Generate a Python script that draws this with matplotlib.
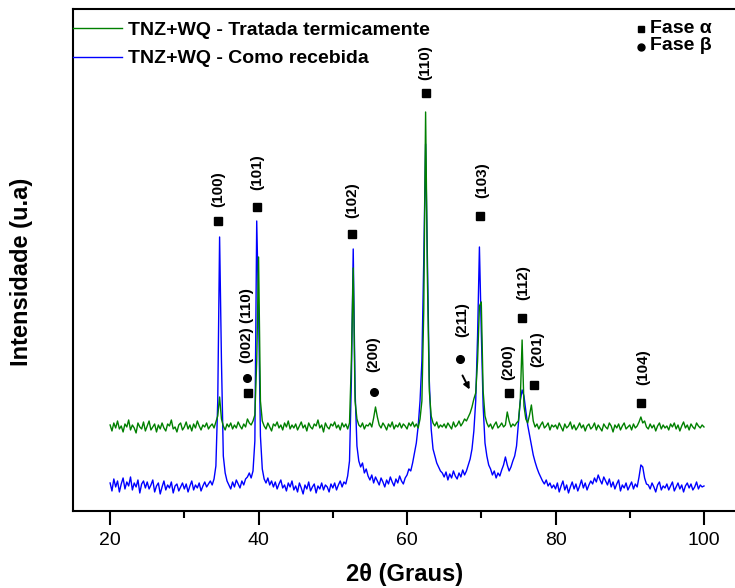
import matplotlib.pyplot as plt
from matplotlib.ticker import MultipleLocator
import numpy as np

plt.rcParams['font.family'] = ['Liberation Sans', 'DejaVu Sans']

two_theta = np.arange(20, 100.001, 0.25)

tratada = [
    86, 80, 88, 83, 90, 82, 85, 79, 87, 84, 91, 81, 86, 83, 78, 88, 84, 82, 89, 80,
    85, 90, 81, 84, 87, 79, 86, 82, 88, 83, 80, 87, 85, 91, 82, 84, 79, 86, 88, 81,
    84, 89, 82, 86, 80, 87, 83, 90, 85, 81, 86, 84, 88, 82, 85, 87, 83, 89, 95, 114,
    92, 85, 81, 87, 84, 88, 82, 86, 83, 89, 85, 82, 87, 84, 92, 88, 86, 90, 96, 150,
    254, 110, 90, 85, 82, 88, 84, 80, 87, 85, 89, 83, 86, 81, 88, 84, 90, 82, 86, 83,
    87, 81, 85, 89, 83, 86, 80, 88, 84, 82, 87, 85, 91, 83, 86, 79, 88, 84, 82, 87,
    85, 89, 83, 86, 81, 88, 84, 87, 82, 88, 150, 243, 110, 92, 86, 84, 88, 82, 86, 85,
    88, 84, 93, 104, 94, 86, 83, 88, 85, 81, 87, 84, 89, 82, 86, 84, 88, 83, 87, 85,
    82, 88, 85, 89, 84, 87, 83, 92, 110, 200, 399, 230, 120, 95, 88, 85, 89, 83, 86, 84,
    87, 83, 88, 85, 82, 89, 84, 86, 90, 85, 88, 92, 90, 94, 98, 104, 112, 118, 150, 205,
    209, 120, 95, 88, 84, 87, 82, 86, 89, 83, 85, 88, 84, 86, 99, 90, 84, 87, 85, 88,
    90, 110, 171, 105, 92, 88, 96, 106, 90, 84, 87, 82, 86, 89, 83, 85, 88, 81, 86, 84,
    86, 82, 88, 84, 80, 87, 83, 85, 89, 82, 86, 81, 84, 88, 83, 86, 80, 85, 87, 82,
    84, 88, 81, 86, 83, 80, 87, 84, 82, 88, 85, 79, 86, 83, 87, 81, 85, 88, 82, 84,
    86, 81, 87, 83, 85, 89, 94, 88, 90, 84, 82, 87, 83, 86, 80, 85, 88, 82, 86, 83,
    85, 81, 87, 84, 88, 82, 86, 80, 85, 89, 83, 86, 81, 87, 84, 82, 88, 85, 83, 86,
    84,
]

recebida = [
    28, 20, 32, 24, 30, 19, 27, 33, 22, 29, 25, 34, 21, 28, 24, 31, 18, 27, 30, 23,
    29, 22, 26, 31, 19, 25, 28, 17, 24, 30, 21, 26, 23, 29, 18, 25, 27, 20, 24, 28,
    22, 27, 19, 25, 30, 21, 26, 23, 28, 20, 25, 29, 24, 27, 30, 26, 32, 45, 110, 274,
    150, 55, 38, 30, 26, 22, 29, 24, 31, 27, 23, 30, 26, 32, 34, 38, 33, 40, 70, 290,
    200, 75, 42, 32, 28, 33, 26, 30, 24, 29, 22, 27, 31, 23, 26, 20, 28, 24, 30, 21,
    25, 19, 28, 23, 17, 26, 22, 29, 20, 24, 27, 18, 25, 22, 28, 21, 26, 24, 19, 27,
    23, 28, 21, 26, 30, 24, 29, 27, 35, 50, 130, 262, 120, 65, 50, 44, 48, 38, 42, 35,
    31, 36, 28, 34, 30, 26, 33, 29, 24, 31, 27, 34, 29, 25, 32, 28, 35, 30, 27, 33,
    36, 42, 40, 48, 58, 68, 85, 110, 150, 250, 367, 250, 130, 82, 62, 55, 48, 44, 40, 38,
    34, 39, 31, 37, 33, 40, 35, 32, 38, 34, 41, 36, 40, 46, 52, 62, 80, 110, 175, 264,
    180, 105, 68, 55, 46, 42, 36, 40, 33, 38, 35, 41, 46, 54, 46, 40, 44, 50, 55, 65,
    88, 110, 121, 115, 100, 86, 76, 66, 56, 49, 43, 38, 34, 30, 27, 31, 25, 28, 23, 26,
    22, 28, 19, 25, 30, 21, 26, 18, 24, 29, 22, 27, 20, 25, 31, 23, 28, 21, 26, 30,
    27, 33, 29, 36, 31, 27, 34, 30, 26, 32, 24, 29, 22, 27, 31, 20, 26, 23, 28, 21,
    25, 29, 22, 27, 24, 34, 46, 44, 33, 27, 26, 22, 28, 24, 19, 26, 29, 21, 25, 23,
    27, 21, 25, 29, 20, 24, 28, 22, 26, 19, 25, 28, 23, 27, 21, 24, 29, 22, 26, 24,
    25,
]

# phase markers (2theta, height)
alpha_x = [34.5, 39.85, 38.6, 52.65, 62.5, 69.8, 73.7, 75.55, 77.1, 91.5]
alpha_y = [290, 304, 118, 277, 418, 295, 118, 193, 126, 108]
beta_x = [38.5, 55.5, 67.2]
beta_y = [133, 119, 152]

# reflection labels (text, 2theta, bottom of label)
hkl_text = ['(100)', '(101)', '(002) (110)', '(102)', '(200)', '(110)',
            '(211)', '(103)', '(200)', '(112)', '(201)', '(104)']
hkl_x = [34.6, 39.8, 38.5, 52.6, 55.4, 62.5, 67.4, 70.1, 73.6, 75.6, 77.5, 91.8]
hkl_y = [304, 321, 148, 293, 139, 431, 174, 313, 131, 211, 144, 126]

fig = plt.figure(figsize=(7.35, 5.88), dpi=100)
ax = fig.add_axes([0.0993, 0.131, 0.909, 0.8537])

l_rec, = ax.plot(two_theta, recebida, color='#0000ff', lw=1.0)
l_trat, = ax.plot(two_theta, tratada, color='#008000', lw=1.0)

ax.plot(alpha_x, alpha_y, 's', color='black', ms=6, ls='none')
ax.plot(beta_x, beta_y, 'o', color='black', ms=5.5, ls='none')
for t, x, y in zip(hkl_text, hkl_x, hkl_y):
    ax.text(x, y, t, rotation=90, ha='center', va='bottom',
            fontsize=11, fontweight='bold')

# small arrow pointing to the beta (211) shoulder
ax.annotate('', xy=(68.6, 119), xytext=(67.3, 138),
            arrowprops=dict(arrowstyle='-|>', color='black', lw=1.4,
                            mutation_scale=9))

ax.legend([l_trat, l_rec],
          ['TNZ+WQ - Tratada termicamente', 'TNZ+WQ - Como recebida'],
          loc='upper left', bbox_to_anchor=(0, 0.975), frameon=False,
          borderaxespad=0, borderpad=0, handlelength=2.5,
          handletextpad=0.35, labelspacing=0.55,
          prop={'size': 14, 'weight': 'bold'})

# phase key (top right)
ax.plot([0.850], [0.960], 's', color='black', ms=5, transform=ax.transAxes)
ax.plot([0.850], [0.925], 'o', color='black', ms=5, transform=ax.transAxes)
ax.text(0.864, 0.952, 'Fase α', transform=ax.transAxes, fontsize=14,
        fontweight='bold', va='baseline')
ax.text(0.864, 0.918, 'Fase β', transform=ax.transAxes, fontsize=14,
        fontweight='bold', va='baseline')

ax.set_xlim(15, 105)
ax.set_ylim(0, 502)
ax.set_yticks([])
ax.xaxis.set_major_locator(MultipleLocator(20))
ax.xaxis.set_minor_locator(MultipleLocator(10))
ax.tick_params(axis='x', which='major', direction='out', length=10, width=1.5,
               labelsize=14, pad=5)
ax.tick_params(axis='x', which='minor', direction='out', length=5, width=1.5)
for s in ax.spines.values():
    s.set_linewidth(1.5)

ax.set_xlabel('2θ (Graus)', fontsize=17, fontweight='bold')
ax.xaxis.set_label_coords(0.497, -0.1036)
ax.set_ylabel('Intensidade (u.a)', fontsize=17, fontweight='bold')
ax.yaxis.set_label_coords(-0.06, 0.476)

plt.savefig('out.png', dpi=100)
plt.close()
